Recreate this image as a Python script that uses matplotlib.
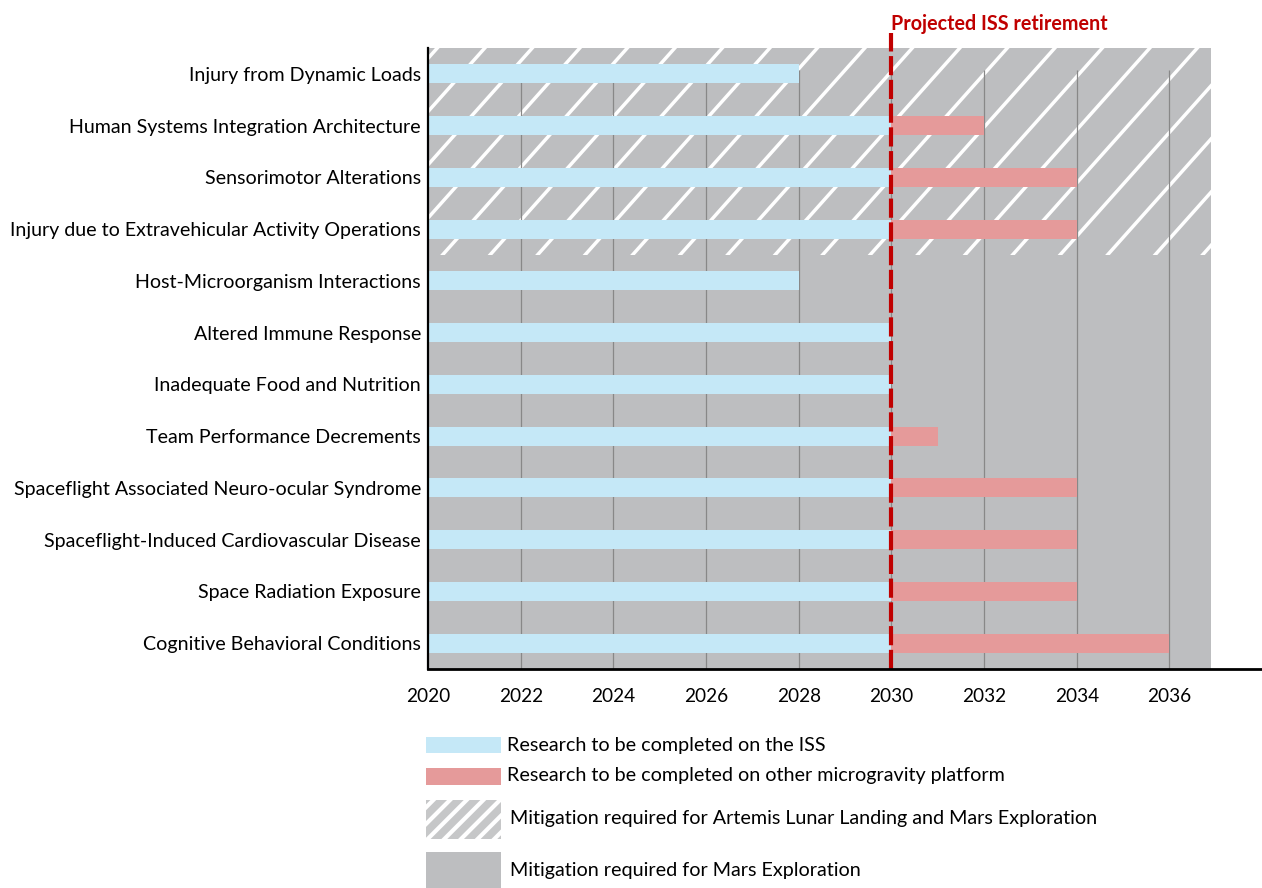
import numpy as np
import matplotlib
matplotlib.use("Agg")
import matplotlib.pyplot as plt
from matplotlib.patches import Rectangle
from matplotlib.collections import LineCollection

# ---------------- data ----------------
risks = [
    "Injury from Dynamic Loads",
    "Human Systems Integration Architecture",
    "Sensorimotor Alterations",
    "Injury due to Extravehicular Activity Operations",
    "Host-Microorganism Interactions",
    "Altered Immune Response",
    "Inadequate Food and Nutrition",
    "Team Performance Decrements",
    "Spaceflight Associated Neuro-ocular Syndrome",
    "Spaceflight-Induced Cardiovascular Disease",
    "Space Radiation Exposure",
    "Cognitive Behavioral Conditions",
]
iss_start = [2020] * 12
iss_end = [2028, 2030, 2030, 2030, 2028, 2030, 2030, 2030, 2030, 2030, 2030, 2030]
other_end = [None, 2032, 2034, 2034, None, None, None, 2031, 2034, 2034, 2034, 2036]
artemis_rows = 4          # first four risks need Artemis + Mars mitigation
iss_retirement = 2030
mars_region_end = 2036.9
x_ticks = [2020, 2022, 2024, 2026, 2028, 2030, 2032, 2034, 2036]
legend_labels = [
    "Research to be completed on the ISS",
    "Research to be completed on other microgravity platform",
    "Mitigation required for Artemis Lunar Landing and Mars Exploration",
    "Mitigation required for Mars Exploration",
]
retire_label = "Projected ISS retirement"

# ---------------- style ----------------
W, H = 1262, 888
DPI = 100
FONT = ["Lato", "DejaVu Sans"]
C_BLUE = "#c5e8f7"
C_RED = "#e59a9a"
C_GRAY = "#bdbec0"
C_GRAY_L = "#c6c7c8"
C_LINE = "#c00000"
C_GRID = "#888888"

plt.rcParams["font.family"] = FONT
plt.rcParams["hatch.color"] = "white"
plt.rcParams["hatch.linewidth"] = 3.0

fig = plt.figure(figsize=(W / DPI, H / DPI), dpi=DPI)
renderer = fig.canvas.get_renderer()


def fx(px):
    return px / W


def fy(py):
    return 1 - py / H


def fit_size(s, target_px, weight="normal"):
    t = fig.text(0, 0, s, fontsize=10, weight=weight)
    w = t.get_window_extent(renderer).width
    t.remove()
    return 10 * target_px / w


fs_lab = fit_size(risks[3], 411)
fs_tick = fit_size("2020", 44)
fs_leg = fit_size(legend_labels[2], 590)
fs_title = fit_size(retire_label, 217, weight="bold")

# axes: left 428px, right 1262px, top 48px, bottom 669px
ax = fig.add_axes([fx(428), fy(669), fx(1262 - 428), (669 - 48) / H])
n = len(risks)
rows = np.arange(n)
ax.set_xlim(2020, 2038)
ax.set_ylim(n - 0.5, -0.5)

# background regions
ax.add_patch(Rectangle((2020, -0.5), mars_region_end - 2020, n, facecolor=C_GRAY,
                       edgecolor="none", zorder=0))
hatch_rect = Rectangle((2020, -0.5), mars_region_end - 2020, artemis_rows,
                       facecolor="none", edgecolor="none", zorder=0.5)
ax.add_patch(hatch_rect)

# diagonal white hatch lines (decorative pattern), drawn in inch space and clipped
slope = 1.12
spacing = 0.475
x0, y0 = 8.63, (H - 50) / DPI
c0 = y0 - slope * x0
segs = []
for k in range(-40, 40):
    c = c0 + k * spacing * slope
    xa, xb = -1, W / DPI + 1
    segs.append([(xa, slope * xa + c), (xb, slope * xb + c)])
lc = LineCollection(segs, colors="white", linewidths=2.5,
                    transform=fig.dpi_scale_trans, zorder=1)
ax.add_collection(lc)
lc.set_clip_path(hatch_rect)

# grid lines
ax.vlines(x_ticks[1:], -0.07, n - 0.5, colors=C_GRID, linewidth=0.9, zorder=1.5)

# bars
bh = 0.37
ax.barh(rows, np.array(iss_end) - np.array(iss_start), left=iss_start, height=bh,
        color=C_BLUE, zorder=2)
o_rows = [r for r, e in zip(rows, other_end) if e is not None]
o_w = [e - iss_retirement for e in other_end if e is not None]
ax.barh(o_rows, o_w, left=iss_retirement, height=bh, color=C_RED, zorder=2)

# retirement line
ax.plot([iss_retirement, iss_retirement], [n - 0.5, -0.79], color=C_LINE, lw=3.0,
        dashes=(4.6, 1.1), clip_on=False, zorder=4, solid_capstyle="butt",
        dash_capstyle="butt")
ax.text(iss_retirement, -0.78, retire_label, color=C_LINE, fontsize=fs_title,
        weight="bold", ha="left", va="bottom", transform=ax.transData)

# axes styling
for s in ["top", "right"]:
    ax.spines[s].set_visible(False)
ax.spines["left"].set_linewidth(1.6)
ax.spines["bottom"].set_linewidth(2.0)
ax.spines["left"].set_zorder(5)
ax.spines["bottom"].set_zorder(5)
ax.set_yticks(rows)
ax.set_yticklabels(risks, fontsize=fs_lab)
ax.set_xticks(x_ticks)
ax.set_xticklabels([str(t) for t in x_ticks], fontsize=fs_tick)
ax.tick_params(axis="y", length=0, pad=5)
ax.tick_params(axis="x", length=0, pad=14)
ax.set_facecolor("white")

# legend (manual)
leg_x, leg_w = 426, 75
boxes = [(737, 16, C_BLUE, None), (768, 17, C_RED, None),
         (800, 39, C_GRAY_L, "//"), (852, 40, C_GRAY, None)]
for (top, h, col, hatch) in boxes:
    r = Rectangle((fx(leg_x), fy(top + h)), fx(leg_w), h / H, transform=fig.transFigure,
                  facecolor=col, edgecolor="white" if hatch else "none",
                  linewidth=0, hatch=hatch)
    fig.add_artist(r)
text_pos = [(507, 745), (507, 776), (510, 818), (510, 870)]
for (px, py), lab in zip(text_pos, legend_labels):
    fig.text(fx(px), fy(py), lab, fontsize=fs_leg, ha="left", va="center")

fig.savefig("out.png", dpi=DPI)
